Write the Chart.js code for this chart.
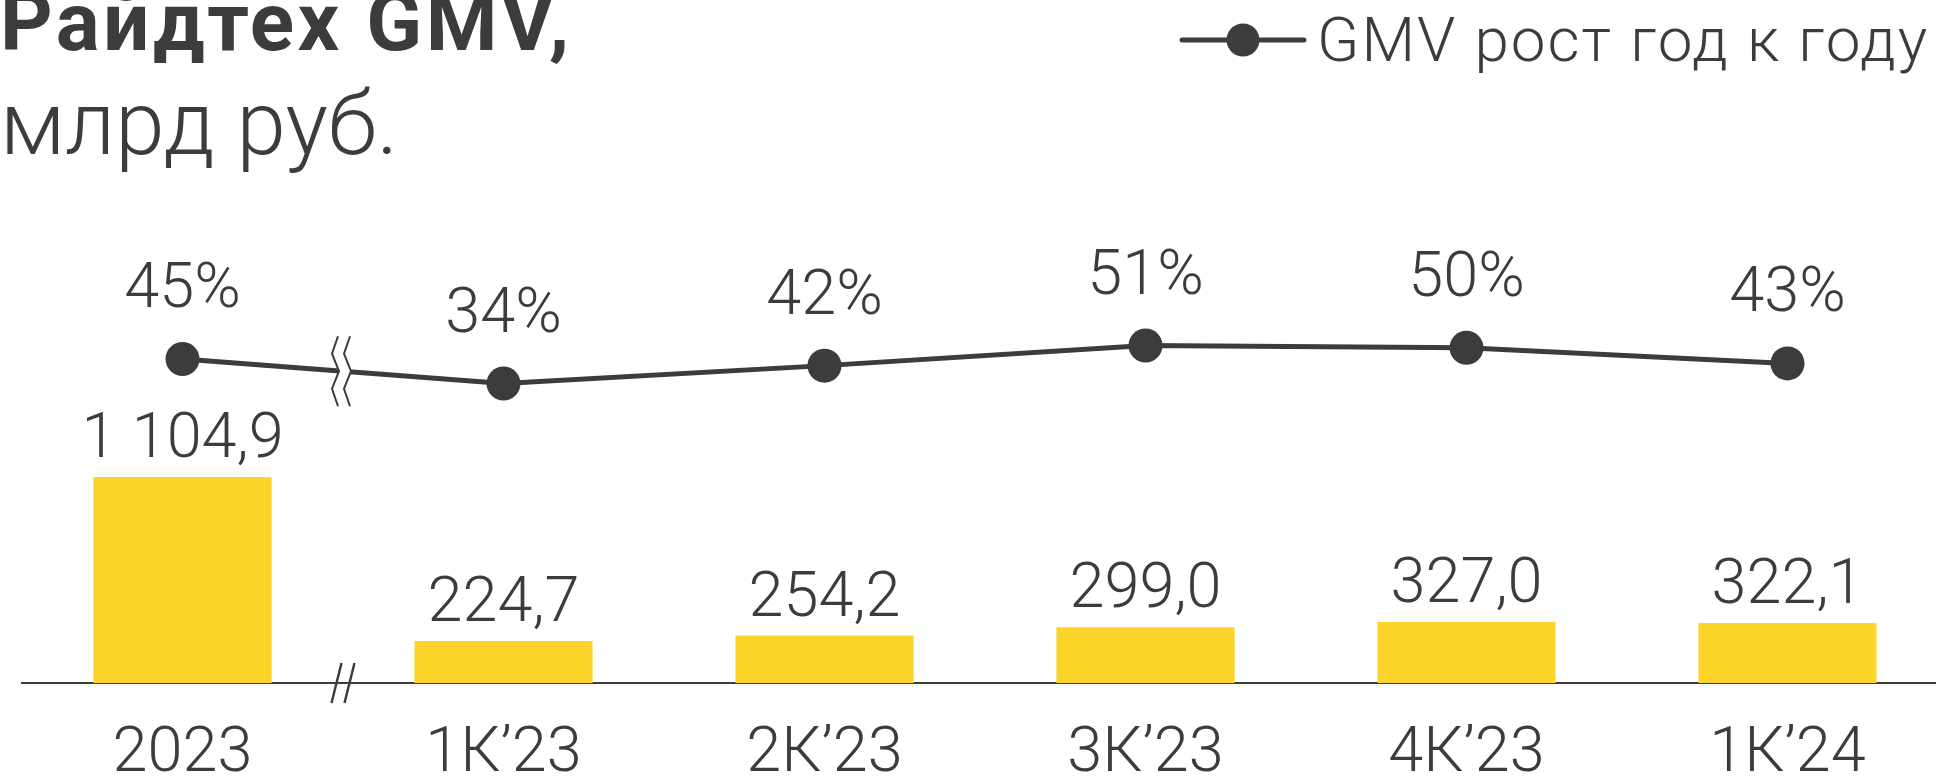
<!DOCTYPE html>
<html>
<head>
<meta charset="utf-8">
<script src="https://cdn.jsdelivr.net/npm/chart.js"></script>
<style>
  html, body { margin: 0; background: #fff; overflow: hidden; }
  #wrap { position: relative; width: 1950px; height: 776px; }
  #chart { position: absolute; left: 0; top: 0; }
  .txt { position: absolute; color: #3c3c3a; font-family: Roboto, "Open Sans", sans-serif; white-space: nowrap; line-height: 1; }
  #title { left: 0; top: -19px; font-size: 82px; font-weight: 700; letter-spacing: 3.4px; }
  #subtitle { left: 0; top: 79px; font-size: 89px; font-weight: 300; }
  #legend { left: 1170px; top: 0; height: 80px; }
  #legend svg { position: absolute; left: 0; top: 0; }
  #legend span { position: absolute; left: 147px; top: 9px; font-size: 62px; font-weight: 300; letter-spacing: 2px; }
</style>
</head>
<body>
<div id="wrap">
  <canvas id="chart" width="1950" height="776"></canvas>
  <div class="txt" id="title">Райдтех GMV,</div>
  <div class="txt" id="subtitle">млрд руб.</div>
  <div class="txt" id="legend">
    <svg width="150" height="80"><line x1="12" y1="40" x2="134" y2="40" stroke="#3c3c3a" stroke-width="5" stroke-linecap="round"/><circle cx="73" cy="40" r="16.5" fill="#3c3c3a"/></svg>
    <span>GMV рост год к году</span>
  </div>
</div>
<script>
// data
const periods = ["2023", "1К’23", "2К’23", "3К’23", "4К’23", "1К’24"];
const gmv = [1104.9, 224.7, 254.2, 299.0, 327.0, 322.1];
const growth = [45, 34, 42, 51, 50, 43];

const ink = "#3c3c3a";
const yellow = "#fdd42a";
const labelFont = "300 63px Roboto, 'Open Sans', sans-serif";

function fmtGmv(v) {
  const parts = v.toFixed(1).split(".");
  return parts[0].replace(/\B(?=(\d{3})+(?!\d))/g, " ") + "," + parts[1];
}

// value labels above bars and points
const valueLabels = {
  id: "valueLabels",
  afterDatasetsDraw(chart) {
    const ctx = chart.ctx;
    ctx.save();
    ctx.font = labelFont;
    ctx.fillStyle = ink;
    ctx.textAlign = "center";
    ctx.textBaseline = "alphabetic";
    chart.getDatasetMeta(0).data.forEach((bar, i) => {
      ctx.fillText(fmtGmv(gmv[i]), bar.x, bar.y - 20);
    });
    chart.getDatasetMeta(1).data.forEach((pt, i) => {
      ctx.fillText(growth[i] + "%", pt.x, pt.y - 52);
    });
    ctx.restore();
  }
};

// break marks between the yearly and quarterly columns
const breakMarks = {
  id: "breakMarks",
  afterDatasetsDraw(chart) {
    const ctx = chart.ctx;
    const x = chart.scales.x;
    const xb = (x.getPixelForValue(0) + x.getPixelForValue(1)) / 2;
    const pts = chart.getDatasetMeta(1).data;
    const yl = (pts[0].y + pts[1].y) / 2;
    const h = 35;
    ctx.save();
    // zigzag cut on the line
    const zig = (cx) => [
      [cx + 1, yl - h], [cx - 5, yl - h / 2], [cx + 2, yl], [cx - 5, yl + h / 2], [cx + 1, yl + h]
    ];
    const left = zig(xb - 6), right = zig(xb + 6);
    ctx.fillStyle = "#fff";
    ctx.beginPath();
    left.forEach((p, i) => i ? ctx.lineTo(p[0], p[1]) : ctx.moveTo(p[0], p[1]));
    right.slice().reverse().forEach(p => ctx.lineTo(p[0], p[1]));
    ctx.closePath();
    ctx.fill();
    ctx.strokeStyle = ink;
    ctx.lineWidth = 2;
    [left, right].forEach(z => {
      ctx.beginPath();
      z.forEach((p, i) => i ? ctx.lineTo(p[0], p[1]) : ctx.moveTo(p[0], p[1]));
      ctx.stroke();
    });
    // slashes on the axis
    const ya = chart.chartArea.bottom;
    ctx.lineWidth = 2.5;
    [-6.5, 6.5].forEach(d => {
      ctx.beginPath();
      ctx.moveTo(xb + d + 5, ya - 20);
      ctx.lineTo(xb + d - 5, ya + 20);
      ctx.stroke();
    });
    ctx.restore();
  }
};

new Chart(document.getElementById("chart"), {
  type: "bar",
  data: {
    labels: periods,
    datasets: [
      {
        type: "bar",
        data: gmv,
        backgroundColor: yellow,
        categoryPercentage: 1,
        barPercentage: 0.555,
        yAxisID: "y",
        order: 2
      },
      {
        type: "line",
        data: growth,
        borderColor: ink,
        borderWidth: 5,
        pointRadius: 17,
        pointBackgroundColor: ink,
        pointBorderWidth: 0,
        tension: 0,
        clip: false,
        yAxisID: "y2",
        order: 1
      }
    ]
  },
  options: {
    responsive: false,
    animation: false,
    layout: { autoPadding: false, padding: { left: 22, right: 2, top: 198, bottom: 0 } },
    plugins: { legend: { display: false }, tooltip: { enabled: false } },
    scales: {
      x: {
        grid: { display: false, drawTicks: false },
        border: { display: true, color: ink, width: 2 },
        ticks: { color: ink, font: { family: "Roboto, 'Open Sans', sans-serif", size: 63, weight: 300 }, padding: 34 },
        afterFit(scale) { scale.height = 93; }
      },
      y: { display: false, min: 0, max: 2600 },
      y2: { display: false, min: -100, max: 117 }
    }
  },
  plugins: [breakMarks, valueLabels]
});
</script>
</body>
</html>
